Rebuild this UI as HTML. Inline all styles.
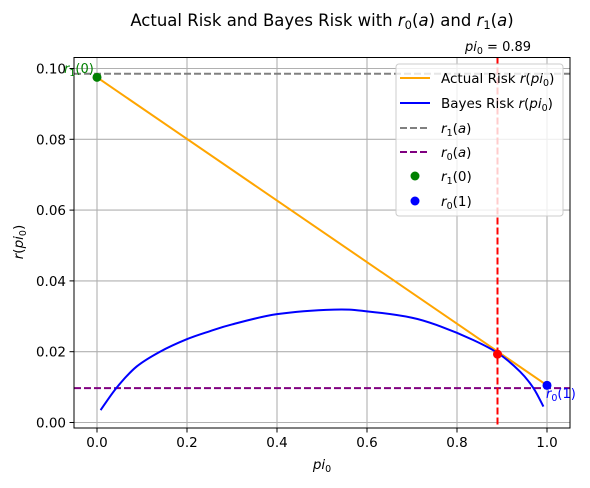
<!DOCTYPE html>
<html><head><meta charset="utf-8"><style>
body{margin:0;background:#fff;font-family:"DejaVu Sans","Liberation Sans",sans-serif;}
svg text{font-family:"DejaVu Sans","Liberation Sans",sans-serif;}
</style></head><body>
<svg id="chart" width="590" height="484" xmlns="http://www.w3.org/2000/svg">
<text x="322" y="26" font-size="16.5" text-anchor="middle">Actual Risk and Bayes Risk with <tspan font-style="italic">r</tspan><tspan font-size="11.5" dy="3">0</tspan><tspan dy="-3">(</tspan><tspan font-style="italic">a</tspan>) and <tspan font-style="italic">r</tspan><tspan font-size="11.5" dy="3">1</tspan><tspan dy="-3">(</tspan><tspan font-style="italic">a</tspan>)</text>
<g id="grid"></g>
<g id="marks"></g>
<rect x="74" y="57.5" width="496" height="370.5" fill="none" stroke="#000" stroke-width="1"/>
<g id="ticks"></g>
<text x="322" y="469" font-size="13.5" text-anchor="middle" font-style="italic">pi<tspan font-size="9.5" dy="3" font-style="normal">0</tspan></text>
<text transform="translate(23,242) rotate(-90)" font-size="13.5" text-anchor="middle"><tspan font-style="italic">r</tspan>(<tspan font-style="italic">pi</tspan><tspan font-size="9.5" dy="3">0</tspan><tspan dy="-3">)</tspan></text>
<text x="498" y="51" font-size="13" text-anchor="middle"><tspan font-style="italic">pi</tspan><tspan font-size="9.5" dy="3">0</tspan><tspan dy="-3"> = 0.89</tspan></text>
<text x="64" y="73" font-size="13" fill="green"><tspan font-style="italic">r</tspan><tspan font-size="9.5" dy="3">1</tspan><tspan dy="-3">(0)</tspan></text>
<text x="546" y="398" font-size="13" fill="blue"><tspan font-style="italic">r</tspan><tspan font-size="9.5" dy="3">0</tspan><tspan dy="-3">(1)</tspan></text>
<g>
<rect x="396" y="64" width="167" height="152" rx="3" fill="#fff" fill-opacity="0.8" stroke="#ccc"/>
<line x1="400" x2="430" y1="78" y2="78" stroke="orange" stroke-width="2"/>
<text x="441" y="83" font-size="13.5">Actual Risk <tspan font-style="italic">r</tspan>(<tspan font-style="italic">pi</tspan><tspan font-size="9.5" dy="3">0</tspan><tspan dy="-3">)</tspan></text>
<line x1="400" x2="430" y1="103" y2="103" stroke="blue" stroke-width="2"/>
<text x="441" y="108" font-size="13.5">Bayes Risk <tspan font-style="italic">r</tspan>(<tspan font-style="italic">pi</tspan><tspan font-size="9.5" dy="3">0</tspan><tspan dy="-3">)</tspan></text>
<line x1="400" x2="430" y1="128" y2="128" stroke="gray" stroke-width="2" stroke-dasharray="7,3"/>
<text x="441" y="133" font-size="13.5"><tspan font-style="italic">r</tspan><tspan font-size="9.5" dy="3">1</tspan><tspan dy="-3">(</tspan><tspan font-style="italic">a</tspan>)</text>
<line x1="400" x2="430" y1="152" y2="152" stroke="purple" stroke-width="2" stroke-dasharray="7,3"/>
<text x="441" y="157" font-size="13.5"><tspan font-style="italic">r</tspan><tspan font-size="9.5" dy="3">0</tspan><tspan dy="-3">(</tspan><tspan font-style="italic">a</tspan>)</text>
<circle cx="415" cy="176" r="4.5" fill="green"/>
<text x="441" y="181" font-size="13.5"><tspan font-style="italic">r</tspan><tspan font-size="9.5" dy="3">1</tspan><tspan dy="-3">(0)</tspan></text>
<circle cx="415" cy="201" r="4.5" fill="blue"/>
<text x="441" y="206" font-size="13.5"><tspan font-style="italic">r</tspan><tspan font-size="9.5" dy="3">0</tspan><tspan dy="-3">(1)</tspan></text>
</g>
</svg>
<script>
const xTicks=[0,0.2,0.4,0.6,0.8,1.0];
const xTickLabels=["0.0","0.2","0.4","0.6","0.8","1.0"];
const yTicks=[0,0.02,0.04,0.06,0.08,0.10];
const yTickLabels=["0.00","0.02","0.04","0.06","0.08","0.10"];
const bayesX=[0.008,0.044,0.088,0.14,0.199,0.251,0.3,0.4,0.527,0.6,0.7,0.762,0.836,0.892,0.94,0.97,0.992];
const bayesY=[0.0035,0.0099,0.0158,0.0200,0.0235,0.0258,0.0277,0.0306,0.0319,0.0314,0.0296,0.0272,0.0233,0.0195,0.0144,0.0097,0.0045];
const actualX=[0,1];
const actualY=[0.0975,0.0105];
const r1a=0.0985, r0a=0.0097, pi0=0.89, pi0Risk=0.0193;
const r1_0=[0,0.0975], r0_1=[1,0.0105];
const X=v=>97+v*450, Y=v=>422.5-v*3540;
const NS="http://www.w3.org/2000/svg";
function mk(tag,attrs,parent){const e=document.createElementNS(NS,tag);for(const k in attrs)e.setAttribute(k,attrs[k]);document.getElementById(parent).appendChild(e);return e;}
xTicks.forEach((t,i)=>{
 const g=mk('line',{x1:X(t),x2:X(t),y1:57.5,y2:428,stroke:'#b0b0b0','stroke-width':1.1},'grid');
 
 
 mk('line',{x1:X(t),x2:X(t),y1:428,y2:432.5,stroke:'#000'},'ticks');
 const tx=mk('text',{x:X(t),y:447,'font-size':13.5,'text-anchor':'middle'},'ticks');tx.textContent=xTickLabels[i];
 
 
});
yTicks.forEach((t,i)=>{
 const g=mk('line',{x1:74,x2:570,y1:Y(t),y2:Y(t),stroke:'#b0b0b0','stroke-width':1.1},'grid');
 
 
 mk('line',{x1:69.5,x2:74,y1:Y(t),y2:Y(t),stroke:'#000'},'ticks');
 const tx=mk('text',{x:66,y:Y(t)+5,'font-size':13.5,'text-anchor':'end'},'ticks');tx.textContent=yTickLabels[i];
 
 
});
let e;
e=mk('line',{x1:74,x2:570,y1:Y(r1a),y2:Y(r1a),stroke:'gray','stroke-width':2,'stroke-dasharray':'7,3'},'marks');


e=mk('line',{x1:74,x2:570,y1:Y(r0a),y2:Y(r0a),stroke:'purple','stroke-width':2,'stroke-dasharray':'7,3'},'marks');


e=mk('polyline',{points:actualX.map((x,i)=>X(x)+','+Y(actualY[i])).join(' '),fill:'none',stroke:'orange','stroke-width':2},'marks');


let d='M'+X(bayesX[0])+','+Y(bayesY[0]);
for(let i=1;i<bayesX.length;i++){const x0=X(bayesX[i-1]),y0=Y(bayesY[i-1]),x1=X(bayesX[i]),y1=Y(bayesY[i]);
 const xp=i>1?X(bayesX[i-2]):x0,yp=i>1?Y(bayesY[i-2]):y0,xn=i<bayesX.length-1?X(bayesX[i+1]):x1,yn=i<bayesX.length-1?Y(bayesY[i+1]):y1;
 d+=` C${x0+(x1-xp)/6},${y0+(y1-yp)/6} ${x1-(xn-x0)/6},${y1-(yn-y0)/6} ${x1},${y1}`;}
e=mk('path',{d:d,fill:'none',stroke:'blue','stroke-width':2},'marks');


e=mk('line',{x1:X(pi0),x2:X(pi0),y1:57.5,y2:428,stroke:'red','stroke-width':2,'stroke-dasharray':'7,3'},'marks');


e=mk('circle',{cx:X(pi0),cy:Y(pi0Risk),r:4.5,fill:'red'},'marks');


e=mk('circle',{cx:X(r1_0[0]),cy:Y(r1_0[1]),r:4.5,fill:'green'},'marks');


e=mk('circle',{cx:X(r0_1[0]),cy:Y(r0_1[1]),r:4.5,fill:'blue'},'marks');


</script>
</body></html>
